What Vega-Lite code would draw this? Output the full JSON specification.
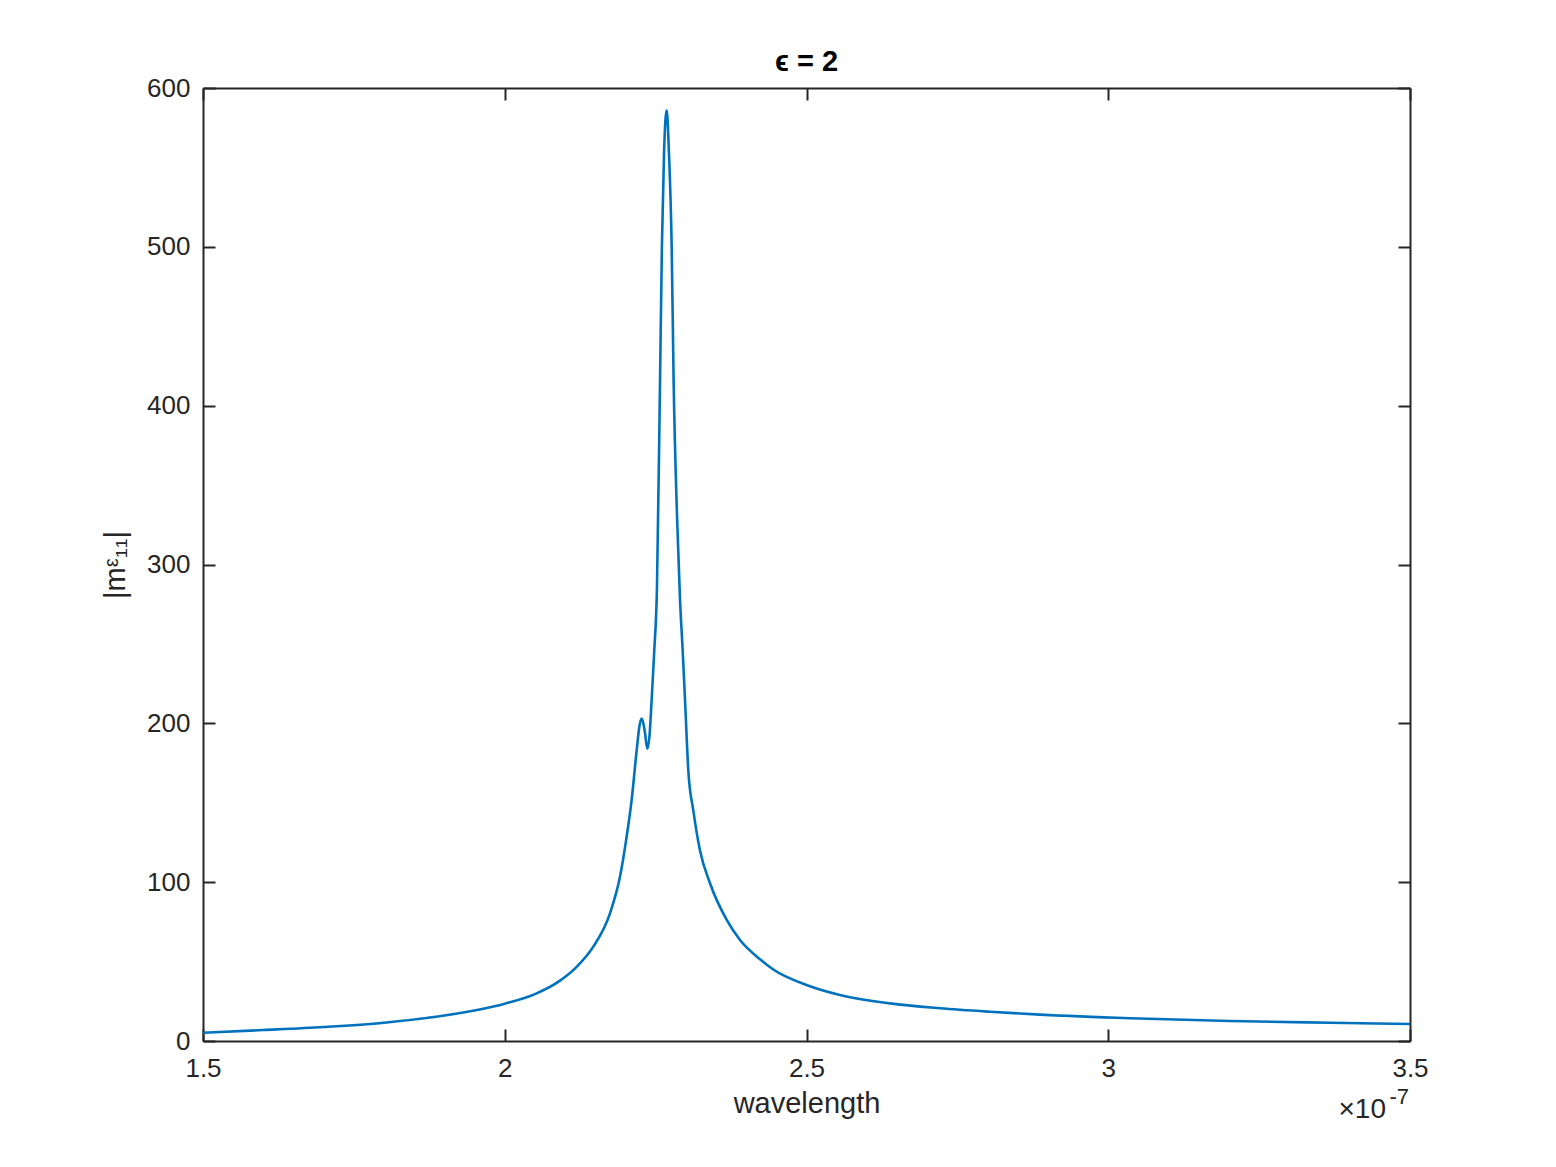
{
  "$schema": "https://vega.github.io/schema/vega-lite/v6.json",
  "width": 1207,
  "height": 953,
  "autosize": "none",
  "padding": {"left": 203, "top": 88, "right": 146, "bottom": 126},
  "background": "white",
  "config": {
    "view": {"stroke": null},
    "font": "Liberation Sans",
    "axis": {
      "domainColor": "#262626",
      "domainWidth": 2,
      "tickColor": "#262626",
      "tickWidth": 2,
      "tickSize": -12,
      "grid": false,
      "labelColor": "#262626",
      "labelFont": "Liberation Sans",
      "labelFontSize": 26,
      "labelFlush": false,
      "labelOverlap": false,
      "labelBound": false,
      "titleColor": "#262626",
      "titleFont": "Liberation Sans",
      "titleFontWeight": "normal",
      "titleFontSize": 29
    }
  },
  "title": {
    "text": "ϵ = 2",
    "fontSize": 29,
    "fontWeight": "bold",
    "font": "Liberation Sans",
    "color": "#000000",
    "anchor": "middle",
    "offset": -2
  },
  "data": {
    "values": [
      {"wavelength": 1.5, "m11": 5.2},
      {"wavelength": 1.6, "m11": 6.9},
      {"wavelength": 1.7, "m11": 8.8},
      {"wavelength": 1.8, "m11": 11.5},
      {"wavelength": 1.9, "m11": 16},
      {"wavelength": 2.0, "m11": 23.5},
      {"wavelength": 2.05, "m11": 29.5},
      {"wavelength": 2.0916, "m11": 38},
      {"wavelength": 2.12, "m11": 47},
      {"wavelength": 2.1467, "m11": 59.4},
      {"wavelength": 2.1744, "m11": 80.4},
      {"wavelength": 2.191, "m11": 103.5},
      {"wavelength": 2.202, "m11": 128.7},
      {"wavelength": 2.2103, "m11": 151.8},
      {"wavelength": 2.2186, "m11": 183},
      {"wavelength": 2.2235, "m11": 199},
      {"wavelength": 2.2272, "m11": 203},
      {"wavelength": 2.232, "m11": 195},
      {"wavelength": 2.2362, "m11": 184},
      {"wavelength": 2.2398, "m11": 192},
      {"wavelength": 2.2434, "m11": 214.7},
      {"wavelength": 2.2478, "m11": 246},
      {"wavelength": 2.2522, "m11": 285},
      {"wavelength": 2.2573, "m11": 416},
      {"wavelength": 2.2604, "m11": 500},
      {"wavelength": 2.264, "m11": 560},
      {"wavelength": 2.2683, "m11": 586},
      {"wavelength": 2.272, "m11": 560},
      {"wavelength": 2.2766, "m11": 500},
      {"wavelength": 2.2798, "m11": 416},
      {"wavelength": 2.2855, "m11": 330},
      {"wavelength": 2.2904, "m11": 278},
      {"wavelength": 2.2948, "m11": 246},
      {"wavelength": 2.2987, "m11": 214.7},
      {"wavelength": 2.3042, "m11": 170},
      {"wavelength": 2.3125, "m11": 145},
      {"wavelength": 2.3235, "m11": 120},
      {"wavelength": 2.3401, "m11": 99.3},
      {"wavelength": 2.3678, "m11": 76.2},
      {"wavelength": 2.3898, "m11": 63.6},
      {"wavelength": 2.423, "m11": 51.5},
      {"wavelength": 2.445, "m11": 45},
      {"wavelength": 2.5, "m11": 35.3},
      {"wavelength": 2.5555, "m11": 29},
      {"wavelength": 2.638, "m11": 23.7},
      {"wavelength": 2.7212, "m11": 20.6},
      {"wavelength": 2.804, "m11": 18.4},
      {"wavelength": 2.887, "m11": 16.6},
      {"wavelength": 3.036, "m11": 14.3},
      {"wavelength": 3.2018, "m11": 12.6},
      {"wavelength": 3.3675, "m11": 11.5},
      {"wavelength": 3.5, "m11": 10.7}
    ]
  },
  "layer": [
    {
      "mark": {"type": "line", "color": "#0072BD", "strokeWidth": 2.6, "interpolate": "monotone"},
      "encoding": {
        "x": {
          "field": "wavelength", "type": "quantitative",
          "scale": {"domain": [1.5, 3.5], "nice": false, "zero": false},
          "axis": {"orient": "bottom", "values": [1.5, 2, 2.5, 3, 3.5], "format": "~g", "labelPadding": 26, "title": "wavelength", "titlePadding": 8}
        },
        "y": {
          "field": "m11", "type": "quantitative",
          "scale": {"domain": [0, 600], "nice": false},
          "axis": {"orient": "left", "values": [0, 100, 200, 300, 400, 500, 600], "format": "d", "labelPadding": 25, "title": "|mᵋ₁₁|", "titlePadding": 16}
        }
      }
    },
    {
      "mark": {"type": "line", "strokeOpacity": 0},
      "encoding": {
        "x": {
          "field": "wavelength", "type": "quantitative",
          "axis": {"orient": "top", "values": [1.5, 2, 2.5, 3, 3.5], "labels": false, "title": null}
        },
        "y": {
          "field": "m11", "type": "quantitative",
          "axis": {"orient": "right", "values": [0, 100, 200, 300, 400, 500, 600], "labels": false, "title": null}
        }
      }
    },
    {
      "data": {"values": [{"label": "×10"}]},
      "mark": {"type": "text", "align": "right", "baseline": "alphabetic", "fontSize": 28, "color": "#262626", "font": "Liberation Sans", "dx": -24},
      "encoding": {
        "text": {"field": "label"},
        "x": {"datum": 3.5, "type": "quantitative", "axis": null},
        "y": {"datum": -48.5, "type": "quantitative", "axis": null}
      }
    },
    {
      "data": {"values": [{"label": "-7"}]},
      "mark": {"type": "text", "align": "right", "baseline": "alphabetic", "fontSize": 22, "color": "#262626", "font": "Liberation Sans", "dx": -1},
      "encoding": {
        "text": {"field": "label"},
        "x": {"datum": 3.5, "type": "quantitative", "axis": null},
        "y": {"datum": -39.5, "type": "quantitative", "axis": null}
      }
    }
  ],
  "resolve": {"axis": {"x": "independent", "y": "independent"}}
}
